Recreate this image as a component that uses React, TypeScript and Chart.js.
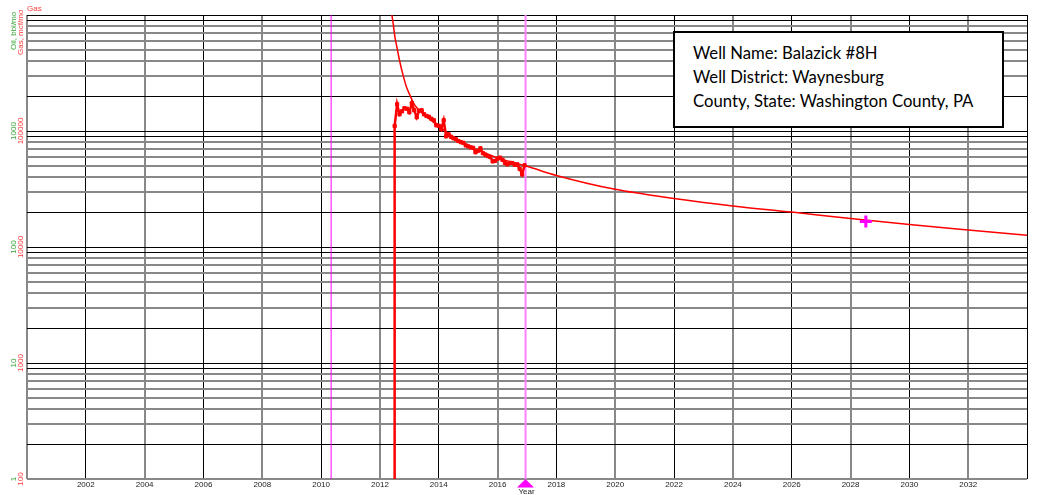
import React, { useEffect, useRef } from 'react';
import { Chart, registerables } from 'chart.js';

Chart.register(...registerables);

// ---------- data ----------
const historyStartYear = 2012.5; // first production month
const preProductionGas = 1; // before first production (off scale)
const gasHistory = [
  110500, 170100, 139400, 148000, 157100, 155500, 145000, 173500, 151000, 131300,
  149400, 151000, 139400, 134800, 132600, 127500, 123700, 112000, 110900, 103400,
  123700, 90000, 93600, 89100, 86500, 84800, 82000, 80200, 79100, 75200,
  73800, 72300, 71600, 65500, 67500, 70900, 64400, 62600, 60800, 59600,
  54700, 55300, 57800, 58900, 56400, 53000, 51600, 53100, 52900, 51100,
  51600, 47200, 42300, 50600,
];

const forecastYears = [
  2012.38, 2012.453, 2012.511, 2012.569, 2012.623, 2012.681, 2012.793, 2012.908,
  2013.021, 2013.133, 2013.248, 2013.418, 2013.6, 2014.0, 2014.5, 2015.0, 2015.5,
  2016.0, 2016.5, 2017.0, 2018, 2020, 2022, 2024, 2026, 2028, 2030, 2032, 2034,
];
const forecastGas = [
  1100000, 834600, 640700, 542000, 459500, 389700, 298500, 237100,
  203400, 175900, 159300, 144100, 131300, 109800, 88200, 74500, 65500,
  58700, 53700, 49600, 41400, 31400, 26200, 22600, 20000, 17600, 15600, 14000, 12600,
];

const markerYear = 2028.52;
const markerGas = 16600;

const eventYears = [2010.34, 2016.95];

const xTickYears = [2002, 2004, 2006, 2008, 2010, 2012, 2014, 2016, 2018, 2020, 2022, 2024, 2026, 2028, 2030, 2032];
const xGridYears = [2000, ...xTickYears, 2034];
const xMin = 2000;
const xMax = 2034;

const gasDecades = [100, 1000, 10000, 100000];
const gasTop = 1000000;
const gasDecadeLabels = ['100', '1000', '10000', '100000'];
const oilDecadeLabels = ['1', '10', '100', '1000'];
const gridMantissas = [1, 2, 3, 4, 5, 6, 7, 8, 9];

const wellInfo = [
  'Well Name: Balazick #8H',
  'Well District: Waynesburg',
  'County, State: Washington County, PA',
];

// ---------- styling ----------
const RED = '#ff0000';
const LABEL_RED = '#ff3b3b';
const LABEL_GREEN = '#3aa53a';
const MAGENTA = '#ff00ff';
const LIGHT_MAGENTA = '#ff80ff';
const GRID_BLACK = '#000000';
const GRID_GRAY = '#888888';
const FONT = '"Liberation Sans", Arial, sans-serif';

const yGridValues: number[] = [];
gasDecades.forEach((d) => gridMantissas.forEach((m) => yGridValues.push(d * m)));
yGridValues.push(gasTop);

function isBlackY(v: number) {
  const m = Math.round(v / Math.pow(10, Math.floor(Math.log10(v) + 1e-9)));
  if (v === gasDecades[0]) return false;
  return m === 1 || m === 2 || m === 9;
}
function isBlackX(v: number) {
  return Math.round(v / 2) % 2 === 1;
}

const labelsPlugin = {
  id: 'wellLabels',
  afterDraw(chart: any) {
    const ctx = chart.ctx as CanvasRenderingContext2D;
    const xs = chart.scales.x;
    const ys = chart.scales.y;
    const area = chart.chartArea;
    ctx.save();
    ctx.font = `8px ${FONT}`;
    // x tick labels
    ctx.fillStyle = '#222';
    ctx.textAlign = 'center';
    ctx.textBaseline = 'middle';
    xTickYears.forEach((yr) => ctx.fillText(String(yr), xs.getPixelForValue(yr), area.bottom + 6));
    // y tick labels (rotated)
    gasDecades.forEach((d, i) => {
      const py = ys.getPixelForValue(d);
      ctx.save();
      ctx.translate(14, py);
      ctx.rotate(-Math.PI / 2);
      ctx.fillStyle = LABEL_GREEN;
      ctx.fillText(oilDecadeLabels[i], 0, 0);
      ctx.restore();
      ctx.save();
      ctx.translate(21, py);
      ctx.rotate(-Math.PI / 2);
      ctx.fillStyle = LABEL_RED;
      ctx.fillText(gasDecadeLabels[i], 0, 0);
      ctx.restore();
    });
    // axis titles
    ctx.textAlign = 'left';
    ctx.save();
    ctx.translate(14, 50);
    ctx.rotate(-Math.PI / 2);
    ctx.fillStyle = LABEL_GREEN;
    ctx.fillText('Oil, bbl/mo', 0, 0);
    ctx.restore();
    ctx.save();
    ctx.translate(21, 55);
    ctx.rotate(-Math.PI / 2);
    ctx.fillStyle = LABEL_RED;
    ctx.fillText('Gas, mcf/mo', 0, 0);
    ctx.restore();
    ctx.fillStyle = LABEL_RED;
    ctx.fillText('Gas', area.left, area.top - 6);
    // event marker triangle + "Year"
    const tx = xs.getPixelForValue(eventYears[1]);
    ctx.fillStyle = MAGENTA;
    ctx.beginPath();
    ctx.moveTo(tx, area.bottom);
    ctx.lineTo(tx - 8.5, area.bottom + 8.5);
    ctx.lineTo(tx + 8.5, area.bottom + 8.5);
    ctx.closePath();
    ctx.fill();
    ctx.fillStyle = '#222';
    ctx.textAlign = 'center';
    ctx.fillText('Year', tx + 1, area.bottom + 13);
    ctx.restore();
  },
};

export default function App() {
  const canvasRef = useRef<HTMLCanvasElement | null>(null);

  useEffect(() => {
    const canvas = canvasRef.current;
    if (!canvas) return;
    const historyPoints = [
      { x: historyStartYear - 0.001, y: preProductionGas },
      ...gasHistory.map((v, i) => ({ x: historyStartYear + i / 12, y: v })),
    ];
    const forecastPoints = forecastYears.map((yr, i) => ({ x: yr, y: forecastGas[i] }));
    const eventLines = eventYears.map((yr) => [
      { x: yr, y: gasDecades[0] },
      { x: yr, y: gasTop },
    ]);

    const chart = new Chart(canvas, {
      type: 'line',
      data: {
        datasets: [
          {
            data: [{ x: markerYear, y: markerGas }],
            showLine: false,
            pointStyle: 'cross',
            pointRadius: 6,
            pointBorderWidth: 3,
            pointBorderColor: MAGENTA,
            pointBackgroundColor: MAGENTA,
          },
          {
            data: historyPoints,
            borderColor: RED,
            backgroundColor: RED,
            borderWidth: 2.5,
            pointStyle: 'rect',
            pointRadius: (c: any) => (c.dataIndex === 0 ? 0 : 2.3),
            pointBorderWidth: 1,
            pointBorderColor: RED,
            pointBackgroundColor: RED,
            tension: 0,
          },
          {
            data: forecastPoints,
            borderColor: RED,
            borderWidth: 1.5,
            pointRadius: 0,
            cubicInterpolationMode: 'monotone',
          },
          {
            data: eventLines[0],
            borderColor: MAGENTA,
            borderWidth: 1,
            pointRadius: 0,
          },
          {
            data: eventLines[1],
            borderColor: LIGHT_MAGENTA,
            borderWidth: 2,
            pointRadius: 0,
          },
        ],
      },
      options: {
        animation: false,
        responsive: false,
        parsing: false as any,
        normalized: true,
        layout: { padding: { left: 27, top: 15, right: 11, bottom: 16 }, autoPadding: false },
        plugins: { legend: { display: false }, tooltip: { enabled: false } },
        scales: {
          x: {
            type: 'linear',
            min: xMin,
            max: xMax,
            afterBuildTicks: (scale: any) => {
              scale.ticks = xGridYears.map((v) => ({ value: v }));
            },
            ticks: { display: false, autoSkip: false },
            border: { display: false },
            grid: {
              drawTicks: false,
              color: (c: any) => (isBlackX(c.tick?.value) ? GRID_BLACK : GRID_GRAY),
              lineWidth: (c: any) => (isBlackX(c.tick?.value) ? 1 : 2),
            },
          },
          y: {
            type: 'logarithmic',
            min: gasDecades[0],
            max: gasTop,
            afterBuildTicks: (scale: any) => {
              scale.ticks = yGridValues.map((v) => ({ value: v }));
            },
            ticks: { display: false, autoSkip: false },
            border: { display: false },
            grid: {
              drawTicks: false,
              color: (c: any) => (isBlackY(c.tick?.value) ? GRID_BLACK : GRID_GRAY),
              lineWidth: (c: any) => (isBlackY(c.tick?.value) ? 1 : 2),
            },
          },
        },
      } as any,
      plugins: [labelsPlugin],
    });
    return () => chart.destroy();
  }, []);

  return (
    <div style={{ position: 'fixed', left: 0, top: 0, width: 1038, height: 495, background: '#fff' }}>
      <canvas ref={canvasRef} width={1038} height={495} style={{ display: 'block', width: 1038, height: 495 }} />
      <div
        style={{
          position: 'absolute',
          left: 673,
          top: 31,
          width: 331,
          height: 97,
          boxSizing: 'border-box',
          border: '2px solid #000',
          background: '#fff',
          padding: '8px 0 0 18px',
          fontFamily: 'Lato, "Open Sans", sans-serif',
          fontSize: 16.7,
          lineHeight: '24px',
          color: '#000',
        }}
      >
        {wellInfo.map((t) => (
          <div key={t} style={{ whiteSpace: 'nowrap' }}>{t}</div>
        ))}
      </div>
    </div>
  );
}
